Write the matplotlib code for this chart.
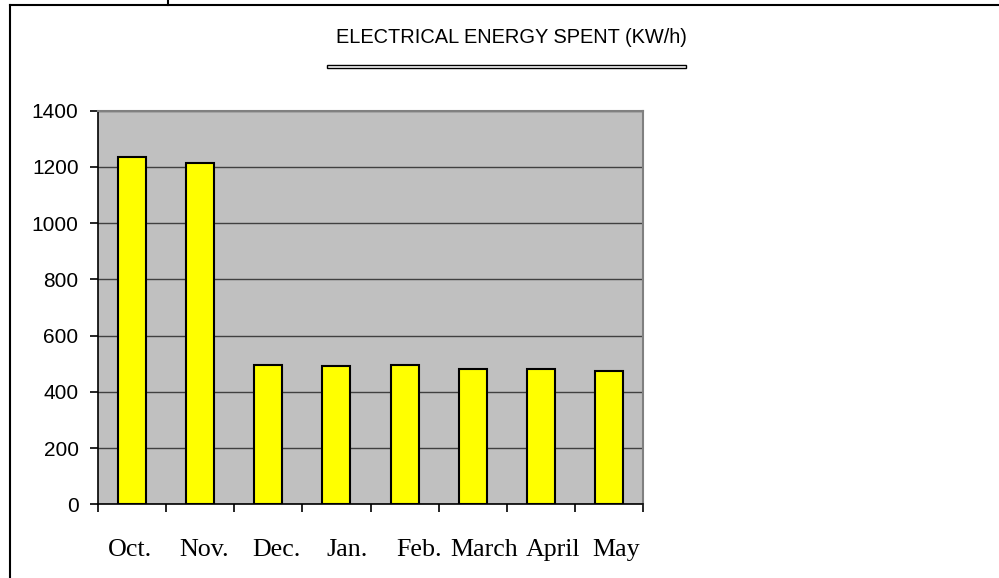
import matplotlib
matplotlib.use("Agg")
import matplotlib.pyplot as plt
import matplotlib.transforms as mtransforms
from matplotlib.lines import Line2D
from matplotlib.patches import Rectangle
import numpy as np

months = ["Oct.", "Nov.", "Dec.", "Jan.", "Feb.", "March", "April", "May"]
energy = [1235, 1212, 495, 490, 495, 482, 482, 475]
yticks = [0, 200, 400, 600, 800, 1000, 1200, 1400]
title = "ELECTRICAL ENERGY SPENT (KW/h)"

# horizontal nudges of the month labels (pixels), as rendered in the reference
label_dx = [-2, 4, 8, 11, 15, 11, 12, 7]

W, H = 999, 578
fig = plt.figure(figsize=(W / 100, H / 100), dpi=100)
fig.patch.set_facecolor("white")

def fx(px):
    return px / W

def fy(py):
    return 1 - py / H

ax = fig.add_axes([fx(98), fy(504.3), fx(643) - fx(98), fy(110.5) - fy(504.3)])
ax.set_facecolor("#C0C0C0")

x = np.arange(len(months))
ax.bar(x, energy, width=0.41, color="#FFFF00", edgecolor="black", linewidth=1.5, zorder=3)

ax.set_xlim(-0.5, len(months) - 0.5)
ax.set_ylim(0, 1400)
ax.set_yticks(yticks)
ax.set_yticklabels([str(v) for v in yticks], fontfamily="Liberation Sans", fontsize=15)
ax.yaxis.grid(True, color="#404040", linewidth=1.0, zorder=1)
ax.set_axisbelow(True)

ax.set_xticks(x)
ax.set_xticklabels(months, fontfamily="Liberation Serif", fontsize=18.7)
ax.set_xticks(np.arange(-0.5, len(months), 1.0), minor=True)
ax.tick_params(axis="x", which="major", length=0, pad=25)
ax.tick_params(axis="x", which="minor", length=6, width=1.2, direction="out", color="black")
ax.tick_params(axis="y", length=6, width=1.2, direction="out", pad=8, color="black")

for lbl, dx in zip(ax.get_xticklabels(), label_dx):
    lbl.set_transform(lbl.get_transform() +
                      mtransforms.ScaledTranslation(dx / 100, 0, fig.dpi_scale_trans))

for side in ["top", "right"]:
    ax.spines[side].set_color("#808080")
    ax.spines[side].set_linewidth(1.5)
for side in ["left", "bottom"]:
    ax.spines[side].set_color("black")
    ax.spines[side].set_linewidth(1.2)

# Title and underline
fig.text(fx(511), fy(42.7), title, ha="center", va="baseline",
         fontfamily="Liberation Sans", fontsize=14.4, color="black")
fig.patches.append(Rectangle((fx(327), fy(67.5)), fx(686) - fx(327), fy(64.5) - fy(67.5),
                             transform=fig.transFigure, facecolor="white",
                             edgecolor="black", linewidth=1.0))

# Outer frame lines
fig.lines.append(Line2D([fx(10), fx(999)], [fy(5), fy(5)], transform=fig.transFigure,
                        color="black", linewidth=1.5))
fig.lines.append(Line2D([fx(10), fx(10)], [fy(5), fy(578)], transform=fig.transFigure,
                        color="black", linewidth=1.5))
fig.lines.append(Line2D([fx(168), fx(168)], [fy(0), fy(5)], transform=fig.transFigure,
                        color="black", linewidth=1.5))

fig.savefig("out.png", dpi=100, facecolor="white")
